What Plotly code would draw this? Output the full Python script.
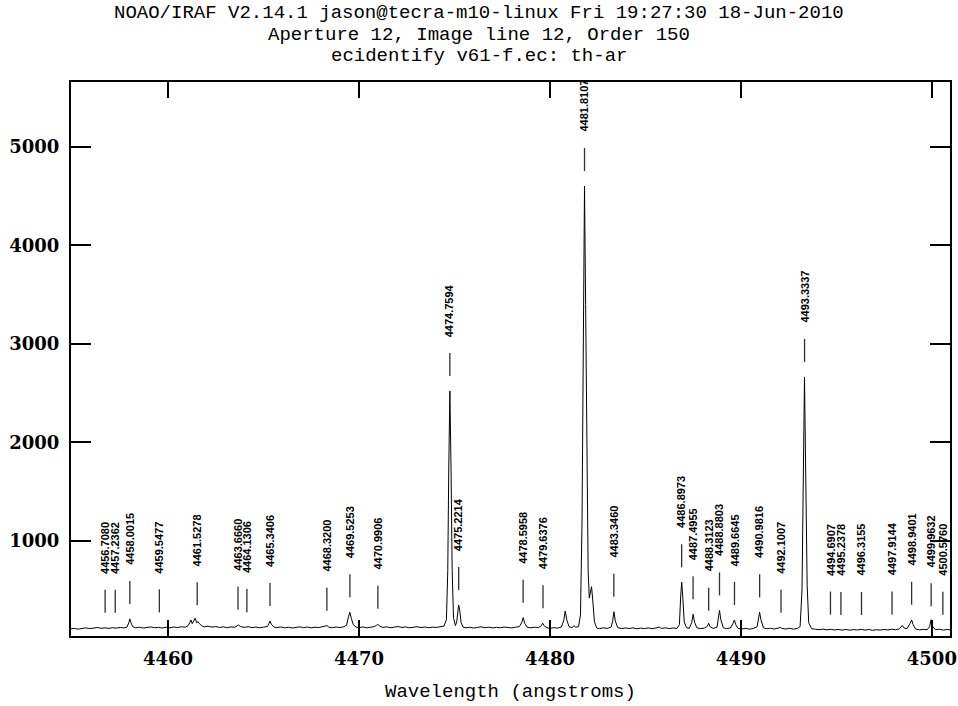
import plotly.graph_objects as go

# ---------------- data ----------------
WAVE = [4454.9, 4455.1, 4455.3, 4455.5, 4455.7, 4455.9, 4456.1, 4456.3, 4456.5, 4456.7,
        4456.9, 4457.1, 4457.3, 4457.5, 4457.7, 4457.85, 4457.95, 4458.0, 4458.05, 4458.15,
        4458.3, 4458.5, 4458.7, 4458.9, 4459.1, 4459.3, 4459.5, 4459.7, 4459.9, 4460.1,
        4460.3, 4460.5, 4460.7, 4460.9, 4461.05, 4461.15, 4461.2, 4461.27, 4461.35, 4461.42,
        4461.5, 4461.57, 4461.63, 4461.75, 4461.9, 4462.1, 4462.3, 4462.5, 4462.7, 4462.9,
        4463.1, 4463.3, 4463.5, 4463.62, 4463.7, 4463.8, 4464.0, 4464.2, 4464.4, 4464.6,
        4464.8, 4465.0, 4465.2, 4465.28, 4465.34, 4465.42, 4465.55, 4465.7, 4465.9, 4466.1,
        4466.3, 4466.5, 4466.7, 4466.9, 4467.1, 4467.3, 4467.5, 4467.7, 4467.9, 4468.1,
        4468.25, 4468.32, 4468.42, 4468.6, 4468.8, 4469.0, 4469.2, 4469.35, 4469.45, 4469.52,
        4469.6, 4469.7, 4469.85, 4470.0, 4470.2, 4470.4, 4470.6, 4470.8, 4470.93, 4470.99,
        4471.08, 4471.25, 4471.45, 4471.65, 4471.85, 4472.05, 4472.25, 4472.45, 4472.65, 4472.85,
        4473.05, 4473.25, 4473.45, 4473.65, 4473.85, 4474.05, 4474.25, 4474.45, 4474.58, 4474.65,
        4474.7, 4474.76, 4474.82, 4474.88, 4474.95, 4475.05, 4475.12, 4475.18, 4475.22, 4475.28,
        4475.35, 4475.45, 4475.6, 4475.8, 4476.0, 4476.2, 4476.4, 4476.6, 4476.8, 4477.0,
        4477.2, 4477.4, 4477.6, 4477.8, 4478.0, 4478.2, 4478.4, 4478.52, 4478.6, 4478.68,
        4478.8, 4479.0, 4479.2, 4479.4, 4479.55, 4479.62, 4479.7, 4479.85, 4480.0, 4480.2,
        4480.4, 4480.6, 4480.72, 4480.8, 4480.88, 4481.0, 4481.15, 4481.25, 4481.35, 4481.5,
        4481.6, 4481.68, 4481.74, 4481.81, 4481.87, 4481.94, 4482.0, 4482.06, 4482.12, 4482.18,
        4482.25, 4482.33, 4482.45, 4482.6, 4482.8, 4483.0, 4483.2, 4483.28, 4483.35, 4483.42,
        4483.55, 4483.75, 4483.95, 4484.15, 4484.35, 4484.55, 4484.75, 4484.95, 4485.15, 4485.35,
        4485.55, 4485.72, 4485.85, 4486.05, 4486.25, 4486.45, 4486.65, 4486.78, 4486.85, 4486.9,
        4486.96, 4487.03, 4487.15, 4487.3, 4487.42, 4487.5, 4487.57, 4487.7, 4487.9, 4488.1,
        4488.25, 4488.31, 4488.38, 4488.55, 4488.75, 4488.82, 4488.88, 4488.95, 4489.08, 4489.25,
        4489.45, 4489.58, 4489.66, 4489.73, 4489.85, 4490.05, 4490.25, 4490.45, 4490.65, 4490.85,
        4490.92, 4490.98, 4491.05, 4491.18, 4491.35, 4491.55, 4491.75, 4491.95, 4492.08, 4492.15,
        4492.35, 4492.55, 4492.75, 4492.95, 4493.1, 4493.2, 4493.27, 4493.33, 4493.4, 4493.47,
        4493.55, 4493.7, 4493.9, 4494.1, 4494.3, 4494.5, 4494.7, 4494.9, 4495.1, 4495.3,
        4495.5, 4495.7, 4495.9, 4496.1, 4496.3, 4496.5, 4496.7, 4496.9, 4497.1, 4497.3,
        4497.5, 4497.7, 4497.9, 4498.1, 4498.3, 4498.45, 4498.55, 4498.7, 4498.85, 4498.94,
        4499.02, 4499.15, 4499.35, 4499.55, 4499.75, 4499.88, 4499.96, 4500.04, 4500.2, 4500.4,
        4500.6, 4500.8, 4501.0]

FLUX = [108, 112, 105, 114, 118, 110, 116, 121, 113, 118,
        112, 119, 115, 122, 117, 125, 170, 208, 175, 130,
        118, 124, 116, 121, 127, 119, 123, 116, 124, 118,
        126, 121, 129, 124, 140, 175, 198, 160, 190, 215,
        170, 180, 165, 140, 128, 134, 125, 131, 122, 128,
        120, 127, 124, 140, 147, 130, 123, 129, 120, 126,
        119, 125, 130, 160, 188, 150, 126, 120, 127, 118,
        124, 116, 123, 128, 120, 126, 118, 124, 121, 127,
        133, 140, 125, 119, 126, 121, 128, 145, 230, 276,
        215, 150, 125, 120, 127, 118, 124, 130, 145, 154,
        135, 122, 128, 119, 125, 131, 122, 127, 118, 124,
        129, 121, 126, 119, 125, 122, 128, 135, 200, 700,
        1700, 2523, 1750, 700, 220, 140, 180, 300, 350, 290,
        170, 125, 118, 124, 116, 122, 128, 119, 125, 117,
        123, 119, 126, 121, 117, 124, 130, 170, 221, 165,
        125, 118, 124, 120, 140, 165, 138, 118, 112, 120,
        115, 125, 190, 289, 200, 130, 118, 140, 125, 130,
        250, 1200, 3200, 4604, 3400, 1600, 700, 420, 480, 536,
        380, 180, 115, 110, 118, 112, 125, 180, 282, 190,
        120, 110, 117, 111, 118, 108, 115, 110, 117, 109,
        116, 126, 112, 118, 110, 116, 112, 150, 450, 581,
        420, 180, 120, 112, 170, 256, 175, 118, 110, 116,
        135, 165, 130, 112, 125, 220, 295, 200, 118, 110,
        116, 160, 198, 150, 112, 106, 112, 105, 111, 130,
        220, 276, 200, 118, 108, 114, 106, 112, 122, 112,
        106, 113, 105, 111, 130, 500, 1500, 2665, 1600, 550,
        170, 110, 104, 99, 105, 97, 103, 96, 102, 95,
        101, 94, 100, 96, 103, 95, 101, 93, 99, 95,
        102, 96, 104, 98, 108, 142, 115, 110, 160, 198,
        150, 105, 97, 103, 98, 130, 200, 130, 98, 104,
        95, 101, 97]

LINE_WAVE = [4456.7080, 4457.2362, 4458.0015, 4459.5477, 4461.5278, 4463.6660, 4464.1306,
             4465.3406, 4468.3200, 4469.5253, 4470.9906, 4474.7594, 4475.2214, 4478.5958,
             4479.6376, 4481.8107, 4483.3460, 4486.8973, 4487.4955, 4488.3123, 4488.8803,
             4489.6645, 4490.9816, 4492.1007, 4493.3337, 4494.6907, 4495.2378, 4496.3155,
             4497.9144, 4498.9401, 4499.9632, 4500.5760]
LINE_LABEL = ["4456.7080", "4457.2362", "4458.0015", "4459.5477", "4461.5278", "4463.6660",
              "4464.1306", "4465.3406", "4468.3200", "4469.5253", "4470.9906", "4474.7594",
              "4475.2214", "4478.5958", "4479.6376", "4481.8107", "4483.3460", "4486.8973",
              "4487.4955", "4488.3123", "4488.8803", "4489.6645", "4490.9816", "4492.1007",
              "4493.3337", "4494.6907", "4495.2378", "4496.3155", "4497.9144", "4498.9401",
              "4499.9632", "4500.5760"]
LINE_LEVEL = [118, 118, 208, 123, 195, 150, 125, 188, 140, 276, 160, 2523, 350, 221, 165,
              4604, 282, 581, 256, 140, 295, 198, 276, 118, 2665, 100, 97, 96, 100, 200,
              185, 98]

TITLE_LINES = ["NOAO/IRAF V2.14.1 jason@tecra-m10-linux Fri 19:27:30 18-Jun-2010",
               "Aperture 12, Image line 12, Order 150",
               "ecidentify v61-f.ec: th-ar"]
X_TITLE = "Wavelength (angstroms)"
X_TICKS = [4460, 4470, 4480, 4490, 4500]
Y_TICKS = [1000, 2000, 3000, 4000, 5000]
X_RANGE = [4454.92, 4500.95]
Y_RANGE = [35, 5660]

# ---------------- style ----------------
GAP = 152      # data units between spectrum and mark
MARK = 234     # mark length in data units
TFONT = "Liberation Mono"
NFONT = "DejaVu Serif"

fig = go.Figure()
fig.add_trace(go.Scatter(x=WAVE, y=FLUX, mode="lines",
                         line=dict(color="black", width=1), hoverinfo="skip"))

mx, my = [], []
for w, lv in zip(LINE_WAVE, LINE_LEVEL):
    mx += [w, w, None]
    my += [lv + GAP, lv + GAP + MARK, None]
fig.add_trace(go.Scatter(x=mx, y=my, mode="lines",
                         line=dict(color="#303030", width=1.3), hoverinfo="skip"))

for w, lv, lab in zip(LINE_WAVE, LINE_LEVEL, LINE_LABEL):
    fig.add_annotation(x=w, y=lv + 2 * GAP + MARK, text=lab, textangle=-90,
                       showarrow=False, xanchor="center", yanchor="bottom",
                       borderpad=0,
                       font=dict(family="Liberation Sans Narrow, Liberation Sans, Arial",
                                 size=11, color="black", weight="bold"))

for i, t in enumerate(TITLE_LINES):
    fig.add_annotation(xref="paper", yref="paper", x=(479 - 71) / 879, y=1,
                       yanchor="middle", xanchor="center", yshift=69 - 21.5 * i,
                       text=t, showarrow=False,
                       font=dict(family=TFONT, size=19, color="black"))

fig.add_annotation(xref="paper", yref="paper", x=0.5, y=0, yanchor="middle",
                   xanchor="center", yshift=-56, text=X_TITLE, showarrow=False,
                   font=dict(family=TFONT, size=19, color="black"))

axis_common = dict(showline=True, linecolor="black", linewidth=2, mirror="allticks",
                   ticks="inside", tickcolor="black", tickwidth=2,
                   showgrid=False, zeroline=False, automargin=False,
                   ticklabeloverflow="allow",
                   tickfont=dict(family=NFONT, size=18, color="black", weight="bold"))

fig.update_xaxes(range=X_RANGE, tickvals=X_TICKS, ticklen=16,
                 ticklabelstandoff=5, **axis_common)
fig.update_yaxes(range=Y_RANGE, tickvals=Y_TICKS, ticklen=20,
                 ticklabelstandoff=6, **axis_common)

fig.update_layout(width=958, height=706, showlegend=False,
                  margin=dict(l=71, r=8, t=82, b=70, autoexpand=False),
                  paper_bgcolor="white", plot_bgcolor="white")

fig.write_html("out.html")
